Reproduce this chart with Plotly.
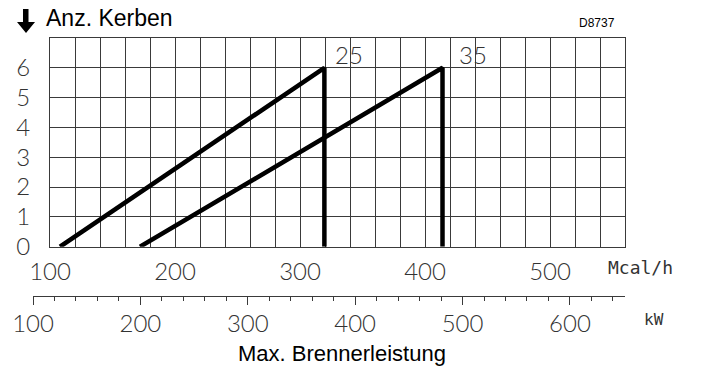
import plotly.graph_objects as go

# data
mcal_ticks = [100, 200, 300, 400, 500]
kerben_ticks = [0, 1, 2, 3, 4, 5, 6]
kw_ticks = [100, 200, 300, 400, 500, 600]

# nozzle 25 : start, top, vertical drop (Mcal/h, Kerben)
d25_x = [108, 319.5, 319.5]
d25_y = [0, 6, 0]
# nozzle 35
d35_x = [172, 414, 414]
d35_y = [0, 6, 0]

labels = ["25", "35"]
label_x = [339, 438]
label_y = [6.45, 6.45]

W, H = 702, 371
PLOT_L, PLOT_R, PLOT_T, PLOT_B = 33, 625, 38, 296   # plot area in pixels
L, T = PLOT_L, PLOT_T
R, B = W - PLOT_R, H - PLOT_B
PW, PH = PLOT_R - PLOT_L, PLOT_B - PLOT_T

def px(x):
    return (x - PLOT_L) / PW

def py(y):
    return 1 - (y - PLOT_T) / PH

GRID = "#3a3a3a"
thin = dict(family="Lato", size=24, color="#333", weight=300)

fig = go.Figure()
fig.add_trace(go.Scatter(x=d25_x, y=d25_y, mode="lines",
                         line=dict(color="black", width=4.5), hoverinfo="skip"))
fig.add_trace(go.Scatter(x=d35_x, y=d35_y, mode="lines",
                         line=dict(color="black", width=4.5), hoverinfo="skip"))
# carrier for the kW scale
fig.add_trace(go.Scatter(x=kw_ticks, y=[0] * len(kw_ticks), mode="none",
                         xaxis="x2", yaxis="y2", hoverinfo="skip"))

for t, x, y in zip(labels, label_x, label_y):
    fig.add_annotation(x=x, y=y, text=t, showarrow=False, font=thin,
                       xanchor="center", yanchor="middle")

fig.add_annotation(xref="paper", yref="paper", x=px(44), y=py(18), text="Anz. Kerben",
                   showarrow=False, xanchor="left", yanchor="middle",
                   font=dict(family="Liberation Sans", size=23, color="black"))
fig.add_annotation(xref="paper", yref="paper", x=px(617), y=py(23), text="D8737",
                   showarrow=False, xanchor="right", yanchor="middle",
                   font=dict(family="Liberation Sans", size=12, color="black"))
fig.add_annotation(xref="paper", yref="paper", x=px(606), y=py(267), text="Mcal/h",
                   showarrow=False, xanchor="left", yanchor="middle",
                   font=dict(family="DejaVu Sans Mono", size=18, color="#333"))
fig.add_annotation(xref="paper", yref="paper", x=px(642), y=py(319), text="kW",
                   showarrow=False, xanchor="left", yanchor="middle",
                   font=dict(family="DejaVu Sans Mono", size=16, color="#333"))
fig.add_annotation(xref="paper", yref="paper", x=px(342), y=py(353),
                   text="Max. Brennerleistung", showarrow=False,
                   xanchor="center", yanchor="middle",
                   font=dict(family="Liberation Sans", size=22, color="black"))

# down arrow in front of the axis title
arrow = [(23, 9), (28.5, 9), (28.5, 22), (35, 22), (26, 33), (17, 22), (23, 22)]
path = "M " + " L ".join(f"{px(a):.4f},{py(b):.4f}" for a, b in arrow) + " Z"
fig.add_shape(type="path", xref="paper", yref="paper", path=path,
              fillcolor="black", line=dict(width=0))

fig.update_layout(
    width=W, height=H,
    margin=dict(l=L, r=R, t=T, b=B),
    paper_bgcolor="white", plot_bgcolor="rgba(0,0,0,0)",
    showlegend=False,
    xaxis=dict(domain=[px(50), 1], range=[100, 560], tickvals=mcal_ticks,
               showgrid=True, gridcolor=GRID, gridwidth=1,
               minor=dict(dtick=20, tick0=100, showgrid=True, gridcolor=GRID, gridwidth=1),
               showline=True, linecolor=GRID, linewidth=1, mirror=True,
               zeroline=False, ticks="", tickfont=thin, ticklabelstandoff=3),
    yaxis=dict(domain=[1 - (246.7 - PLOT_T) / PH, 1], range=[0, 7], tickvals=kerben_ticks,
               showgrid=True, gridcolor=GRID, gridwidth=1,
               showline=True, linecolor=GRID, linewidth=1, mirror=True,
               zeroline=False, ticks="", tickfont=thin, ticklabelstandoff=14),
    xaxis2=dict(domain=[0, 1], anchor="y2", range=[100, 651.3], tick0=100, dtick=100,
                showgrid=False, zeroline=False, showline=True, linecolor=GRID, linewidth=1,
                ticks="outside", ticklen=8, tickcolor=GRID, tickwidth=1,
                minor=dict(dtick=20, tick0=100, ticks="outside", ticklen=4,
                           tickcolor=GRID, tickwidth=1),
                tickfont=thin, ticklabelstandoff=-2),
    yaxis2=dict(domain=[0, 0.02], visible=False, range=[0, 1]),
)

# drop the browser's default body margin so the figure sits at the page corner
fig.write_html("out.html", config={"displayModeBar": False},
               post_script="document.body.style.margin='0';")
